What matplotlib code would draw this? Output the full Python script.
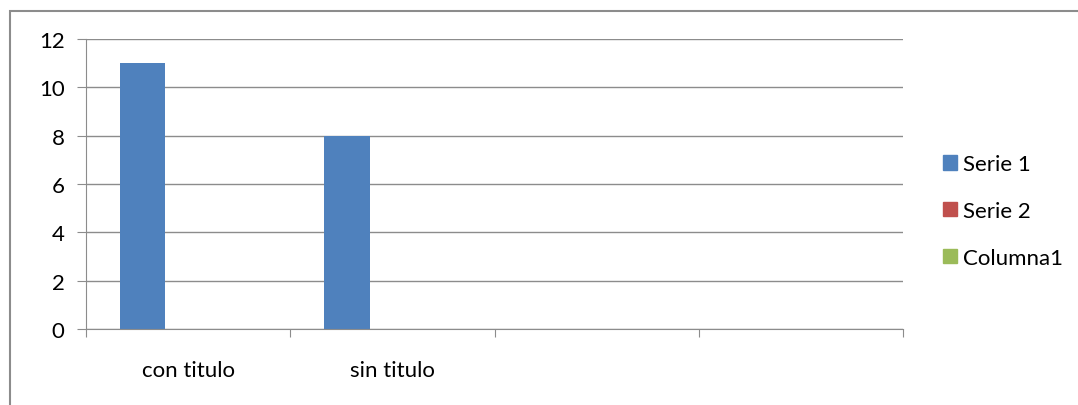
import matplotlib
matplotlib.use("Agg")
import matplotlib.pyplot as plt
from matplotlib.patches import Patch, Rectangle
import numpy as np

categories = ["con titulo", "sin titulo", "", ""]
serie1 = [11, 8, None, None]
serie2 = [None, None, None, None]
columna1 = [None, None, None, None]
series = [("Serie 1", serie1, "#4f81bd"),
          ("Serie 2", serie2, "#c0504d"),
          ("Columna1", columna1, "#9bbb59")]
yticks = [0, 2, 4, 6, 8, 10, 12]

plt.rcParams["font.family"] = ["Lato", "DejaVu Sans"]
GRID = "#8c8c8c"
FS = 16

fig = plt.figure(figsize=(10.78, 4.06), dpi=100)
ax = fig.add_axes([86 / 1078, 1 - 330 / 406, (903 - 86) / 1078, (330 - 40) / 406])

# clustered columns, gap width 150% like the spreadsheet default
x = np.arange(len(categories))
w = 1 / 4.5
for i, (name, vals, color) in enumerate(series):
    h = [v if v is not None else 0 for v in vals]
    ax.bar(x + (i - 1) * w, h, width=w, color=color, label=name)

ax.set_xlim(-0.5, len(categories) - 0.5)
ax.set_ylim(0, 12)
ax.set_yticks(yticks)
ax.set_yticklabels([str(t) for t in yticks], fontsize=FS)
ax.yaxis.grid(True, color=GRID, lw=1)
ax.set_axisbelow(True)
ax.tick_params(axis="y", length=6.5, color=GRID, pad=9)

# category ticks sit on the boundaries, labels in the middle
ax.set_xticks(np.arange(len(categories) + 1) - 0.5)
ax.set_xticklabels([])
ax.set_xticks(x, minor=True)
ax.set_xticklabels(categories, minor=True, fontsize=FS)
ax.tick_params(axis="x", which="major", length=6, color=GRID)
ax.tick_params(axis="x", which="minor", length=0, pad=22)

for side in ("top", "right"):
    ax.spines[side].set_visible(False)
for side in ("left", "bottom"):
    ax.spines[side].set_color(GRID)

handles = [Patch(color=c, label=n) for n, _, c in series]
fig.legend(handles=handles, loc="center left",
           bbox_to_anchor=(923 / 1078, 1 - 212 / 406), frameon=False,
           fontsize=FS, handlelength=0.63, handleheight=0.63,
           handletextpad=0.25, labelspacing=1.2)

# outer chart frame
fig.patches.append(Rectangle((10 / 1078, -0.1), 1.2, 1 - 11.5 / 406 + 0.1,
                             transform=fig.transFigure, fill=False,
                             edgecolor="#8c8c8c", lw=1.5))

fig.savefig("out.png", dpi=100)
